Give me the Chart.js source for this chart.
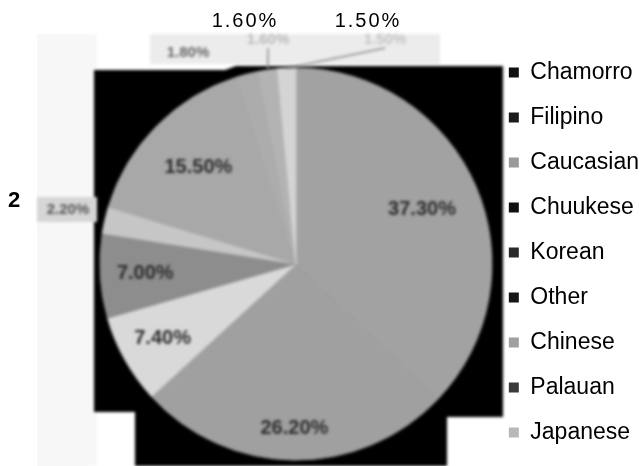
<!DOCTYPE html>
<html>
<head>
<meta charset="utf-8">
<script src="https://cdn.jsdelivr.net/npm/chart.js@4/dist/chart.umd.min.js"></script>
<style>
    html, body { margin: 0; padding: 0; background: #fff; }
    canvas { display: block; }
</style>
</head>
<body>
<canvas id="ethnicityChart" width="644" height="466"></canvas>
<script>
// --- Data ---
const categories = ['Chamorro', 'Filipino', 'Caucasian', 'Chuukese', 'Korean', 'Other', 'Chinese', 'Palauan', 'Japanese'];
const shares = [37.3, 26.2, 7.4, 7.0, 2.2, 15.5, 1.8, 1.6, 1.5];

// --- Styles ---
const sliceGreys = ['#a2a2a2', '#a0a0a0', '#d9d9d9', '#8d8d8d', '#c6c6c6', '#a8a8a8', '#acacac', '#b3b3b3', '#d4d4d4'];
const legendSwatches = ['#111111', '#1a1a1a', '#9a9a9a', '#111111', '#2a2a2a', '#151515', '#a0a0a0', '#3a3a3a', '#b8b8b8'];
// inside labels: fraction of radius; outside labels: fixed spot in the scan
const labelRadius = [0.70, 0.84, 0.78, 0.77, null, 0.70, null, null, null];
const outsideLabels = {
    4: { x: 68, y: 210, box: [37, 197, 60, 25], color: '#555' },
    6: { x: 188, y: 53, box: null, color: '#666' },
    7: { x: 268, y: 40, box: null, color: '#bbb', leader: true },
    8: { x: 385, y: 40, box: null, color: '#c4c4c4', leader: true }
};
const FONT = "'Liberation Sans', Arial, sans-serif";
const BLUR_AREA = [88, 30, 418, 440]; // the scanned, soft part of the picture

// black scanned backdrop behind the pie + light label band
const backdrop = {
    id: 'backdrop',
    beforeDraw(chart) {
        const ctx = chart.ctx;
        ctx.save();
        ctx.fillStyle = '#f7f7f7';
        ctx.fillRect(37, 34, 60, 432);
        ctx.fillStyle = '#ececec';
        ctx.fillRect(150, 34, 290, 30);
        ctx.fillStyle = '#000';
        ctx.beginPath();
        ctx.moveTo(94, 70);
        ctx.lineTo(225, 70);
        ctx.lineTo(236, 66);
        ctx.lineTo(503, 66);
        ctx.lineTo(503, 417);
        ctx.lineTo(447, 417);
        ctx.lineTo(447, 470);
        ctx.lineTo(135, 470);
        ctx.lineTo(135, 412);
        ctx.lineTo(94, 412);
        ctx.closePath();
        ctx.fill();
        ctx.restore();
    },
    afterDatasetsDraw(chart) {
        const ctx = chart.ctx;

        // soften pie + backdrop together (no seams between slices)
        const copy = document.createElement('canvas');
        copy.width = chart.canvas.width;
        copy.height = chart.canvas.height;
        copy.getContext('2d').drawImage(chart.canvas, 0, 0);
        ctx.save();
        ctx.beginPath();
        ctx.rect(...BLUR_AREA);
        ctx.clip();
        ctx.clearRect(...BLUR_AREA);
        ctx.filter = 'blur(1.5px)';
        ctx.drawImage(copy, 0, 0);
        ctx.restore();

        const meta = chart.getDatasetMeta(0);
        ctx.save();
        ctx.filter = 'blur(1.7px)';
        ctx.textAlign = 'center';
        ctx.textBaseline = 'middle';

        meta.data.forEach((arc, i) => {
            const p = arc.getProps(['x', 'y', 'startAngle', 'endAngle', 'outerRadius'], true);
            const mid = (p.startAngle + p.endAngle) / 2;
            const text = shares[i].toFixed(2) + '%';
            if (labelRadius[i] !== null) {
                const r = p.outerRadius * labelRadius[i];
                ctx.font = 'bold 20px ' + FONT;
                ctx.fillStyle = '#2a2a2a';
                ctx.fillText(text, p.x + Math.cos(mid) * r, p.y + Math.sin(mid) * r);
                return;
            }
            const spot = outsideLabels[i];
            if (spot.box) {
                ctx.fillStyle = '#d6d6d6';
                ctx.fillRect(...spot.box);
            }
            if (spot.leader) {
                ctx.strokeStyle = '#8a8a8a';
                ctx.lineWidth = 1.5;
                ctx.beginPath();
                ctx.moveTo(p.x + Math.cos(mid) * p.outerRadius, p.y + Math.sin(mid) * p.outerRadius);
                ctx.lineTo(spot.x, spot.y + 8);
                ctx.stroke();
            }
            ctx.font = 'bold 15px ' + FONT;
            ctx.fillStyle = spot.color;
            ctx.fillText(text, spot.x, spot.y);
        });
        ctx.restore();

        // sharp overlay text found on the scan
        ctx.save();
        ctx.fillStyle = '#000';
        ctx.textAlign = 'center';
        ctx.textBaseline = 'middle';
        ctx.font = '20px ' + FONT;
        ctx.letterSpacing = '2px';
        ctx.fillText(shares[7].toFixed(2) + '%', 245, 21);
        ctx.fillText(shares[8].toFixed(2) + '%', 368, 21);
        ctx.letterSpacing = '0px';
        ctx.font = 'bold 22px ' + FONT;
        ctx.fillText(String(Math.floor(shares[4])), 14, 201);
        ctx.restore();
    }
};

const ctx = document.getElementById('ethnicityChart').getContext('2d');

new Chart(ctx, {
    type: 'pie',
    data: {
        labels: categories,
        datasets: [{
            data: shares,
            backgroundColor: sliceGreys,
            borderColor: sliceGreys,
            borderWidth: 1,
            radius: 196,
            clip: false
        }]
    },
    options: {
        responsive: false,
        animation: false,
        layout: { padding: { left: 105, right: -5, top: 0, bottom: 0 } },
        plugins: {
            title: {
                display: true,
                text: '',
                font: { size: 10, lineHeight: 1 },
                padding: { top: 52, bottom: 0 }
            },
            tooltip: { enabled: false },
            legend: {
                position: 'right',
                align: 'end',
                labels: {
                    boxWidth: 10,
                    boxHeight: 10,
                    padding: 22,
                    color: '#000',
                    font: { family: FONT, size: 23 },
                    generateLabels: () => categories.map((name, i) => ({
                        text: name,
                        fillStyle: legendSwatches[i],
                        strokeStyle: legendSwatches[i],
                        lineWidth: 0,
                        fontColor: '#000',
                        hidden: false,
                        index: i
                    }))
                }
            }
        }
    },
    plugins: [backdrop]
});
</script>
</body>
</html>
